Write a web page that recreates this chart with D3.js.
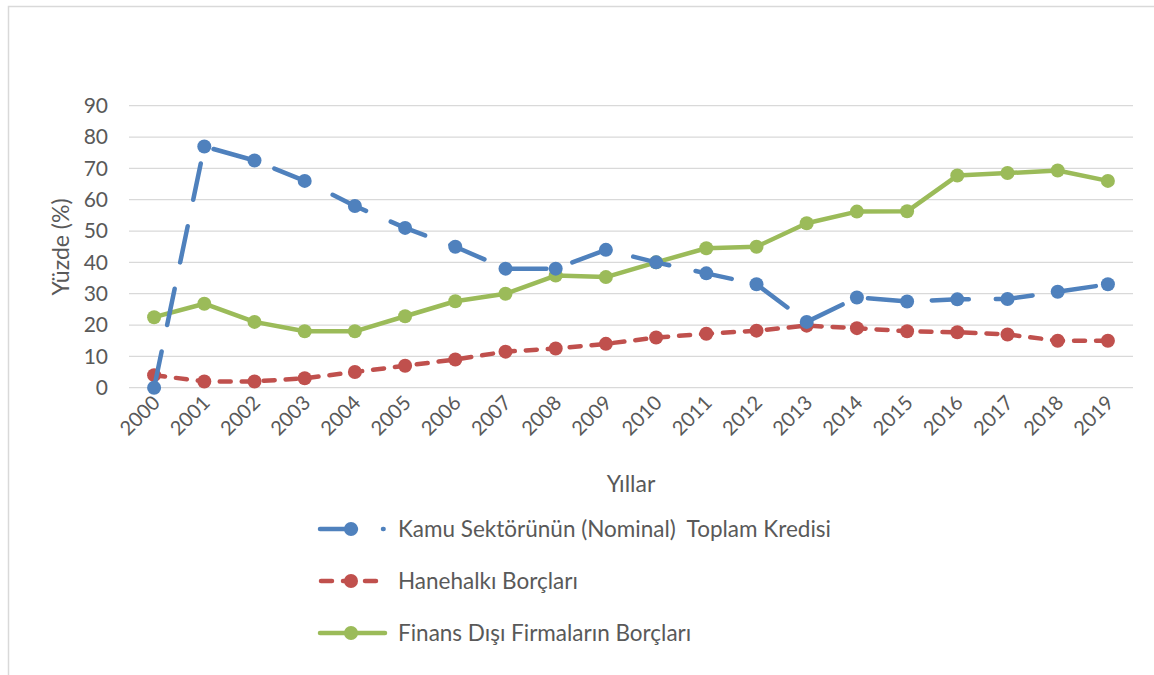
<!DOCTYPE html>
<html><head><meta charset="utf-8">
<script src="https://cdn.jsdelivr.net/npm/d3@7/dist/d3.min.js"></script>
<style>body{margin:0;background:#fff}svg{display:block}text{font-family:Lato,"Open Sans",sans-serif;fill:#595959}</style>
</head><body><svg id="c" width="1154" height="675"></svg>
<script>
const years = ["2000","2001","2002","2003","2004","2005","2006","2007","2008","2009","2010","2011","2012","2013","2014","2015","2016","2017","2018","2019"];
const kamu = [0,77,72.5,66,58,51,45,38,38,44,40,36.5,33,21,28.8,27.5,28.2,28.3,30.6,33];
const hanehalki = [4,2,2,3,5,7,9,11.5,12.5,14,16,17.2,18.2,19.8,19,18,17.7,17,15,15];
const finansDisi = [22.5,26.8,21,18,18,22.8,27.6,30,35.8,35.3,40,44.5,45,52.5,56.2,56.3,67.7,68.5,69.3,66];
const yTicks = [0,10,20,30,40,50,60,70,80,90];
const seriesNames = ["Kamu Sektörünün (Nominal)  Toplam Kredisi","Hanehalkı Borçları","Finans Dışı Firmaların Borçları"];

const svg = d3.select("#c");
svg.append("rect").attr("x",8.5).attr("y",6.5).attr("width",1200).attr("height",700)
  .attr("fill","#fff").attr("stroke","#d9d9d9").attr("stroke-width",1.5);

const x = d3.scaleBand().domain(years).range([129,1133]);
const y = d3.scaleLinear().domain([0,90]).range([387.7,105.7]);
const cx = d => x(d)+x.bandwidth()/2;

// gridlines
svg.append("g").selectAll("line").data(yTicks).join("line")
  .attr("x1",129).attr("x2",1133).attr("y1",d=>y(d)).attr("y2",d=>y(d))
  .attr("stroke","#d9d9d9").attr("stroke-width",1.3);

// y axis
const ya = svg.append("g").attr("transform","translate(129,0)")
  .call(d3.axisLeft(y).tickValues(yTicks).tickSize(0).tickPadding(21));
ya.select(".domain").remove();
ya.selectAll("text").style("font-size","21px").attr("fill","#595959").style("font-family","Lato, sans-serif");

// x axis
const xa = svg.append("g").attr("transform","translate(0,388)")
  .call(d3.axisBottom(x).tickSize(0));
xa.select(".domain").remove();
xa.selectAll("text").style("font-size","20px").attr("fill","#595959").style("font-family","Lato, sans-serif")
  .attr("text-anchor","end").attr("dy",0).attr("y",0)
  .attr("transform","translate(7,16) rotate(-45)");

// axis titles
svg.append("text").attr("transform","translate(69,247) rotate(-90)").attr("text-anchor","middle")
  .style("font-size","23px").text("Yüzde (%)");
svg.append("text").attr("x",631).attr("y",492).attr("text-anchor","middle")
  .style("font-size","23px").text("Yıllar");

const cfg = [
  {data:kamu,color:"#4f81bd",dash:"37,27"},
  {data:hanehalki,color:"#c0504d",dash:"11,11"},
  {data:finansDisi,color:"#9bbb59",dash:null}
];
const line = d3.line().x((d,i)=>cx(years[i])).y(d=>y(d));
const order = [2,1,0];
order.forEach(k=>{
  const c = cfg[k];
  const g = svg.append("g");
  g.append("path").datum(c.data).attr("d",line).attr("fill","none")
    .attr("stroke",c.color).attr("stroke-width",4.5).attr("stroke-linecap","round").attr("stroke-linejoin","round")
    .attr("stroke-dasharray",c.dash);
  g.selectAll("circle").data(c.data).join("circle")
    .attr("cx",(d,i)=>cx(years[i])).attr("cy",d=>y(d)).attr("r",7).attr("fill",c.color);
});

// legend
const ly = [529,581,633];
const lx1 = [320,321,320], lx2 = [383.6,378,385], ldash = ["36,27","11,11",null];
cfg.forEach((c,k)=>{
  const g = svg.append("g");
  g.append("line").attr("x1",lx1[k]).attr("x2",lx2[k]).attr("y1",ly[k]).attr("y2",ly[k])
    .attr("stroke",c.color).attr("stroke-width",4.5).attr("stroke-linecap","round")
    .attr("stroke-dasharray",ldash[k]);
  g.append("circle").attr("cx",351).attr("cy",ly[k]).attr("r",7).attr("fill",c.color);
  g.append("text").attr("x",398).attr("y",ly[k]+8).style("font-size","22.5px")
    .style("white-space","pre").text(seriesNames[k]);
});
</script></body></html>
